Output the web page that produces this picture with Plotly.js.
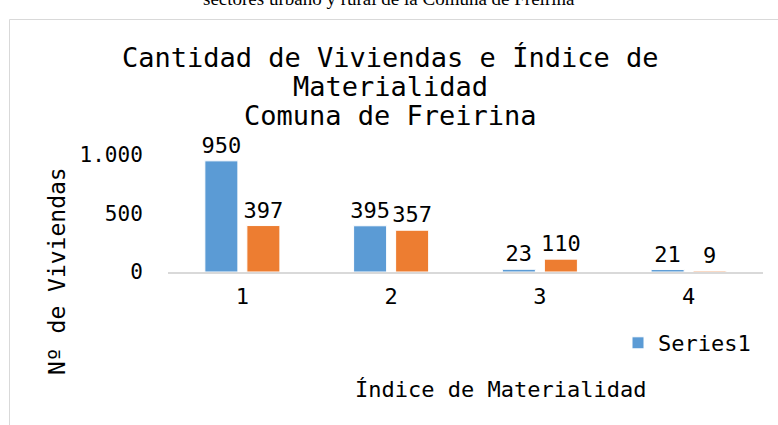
<!DOCTYPE html>
<html><head><meta charset="utf-8">
<script src="https://cdn.plot.ly/plotly-3.0.1.min.js"></script>
<style>body{margin:0;background:#fff}#chart{width:778px;height:425px}</style>
</head><body><div id="chart"></div>
<script>
const categories = ['1', '2', '3', '4'];
const series1 = [950, 395, 23, 21];
const series2 = [397, 357, 110, 9];
const yTicks = [0, 500, 1000];
const yTickLabels = ['0', '500', '1.000'];
const titleLines = ['Cantidad de Viviendas e Índice de', 'Materialidad', 'Comuna de Freirina'];
const caption = 'sectores urbano y rural de la Comuna de Freirina';
const xTitle = 'Índice de Materialidad';
const yTitle = 'Nº de Viviendas';

const FONT = '"DejaVu Sans Mono", monospace';
const L = 168, R = 763, T = 155, B = 272;
const px2x = p => (p - L) / (R - L);
const py2y = p => (B - p) / (B - T);

const traces = [
  {type: 'bar', name: 'Series1', x: categories, y: series1,
   marker: {color: '#5B9BD5', line: {color: '#ffffff', width: 1}},
   text: series1.map(String), textposition: 'outside', constraintext: 'none',
   textfont: {family: FONT, size: 22, color: '#000'}, cliponaxis: false, hoverinfo: 'none'},
  {type: 'bar', name: 'Series2', x: categories, y: series2, showlegend: false,
   marker: {color: '#ED7D31', line: {color: '#ffffff', width: 1}},
   text: series2.map(String), textposition: 'outside', constraintext: 'none',
   textfont: {family: FONT, size: 22, color: '#000'}, cliponaxis: false, hoverinfo: 'none'}
];

const titleY = [57, 86, 115];
const annotations = titleLines.map((t, i) => ({
  text: t, xref: 'paper', yref: 'paper', x: px2x(390), y: py2y(titleY[i]),
  xanchor: 'center', yanchor: 'middle', showarrow: false,
  font: {family: FONT, size: 27, color: '#000'}
}));
annotations.push({text: caption, xref: 'paper', yref: 'paper', x: px2x(389), y: py2y(-1),
  xanchor: 'center', yanchor: 'middle', showarrow: false,
  font: {family: '"Liberation Serif", "Times New Roman", serif', size: 19, color: '#000'}});
annotations.push({text: xTitle, xref: 'paper', yref: 'paper', x: px2x(500), y: py2y(389),
  xanchor: 'center', yanchor: 'middle', showarrow: false,
  font: {family: FONT, size: 22, color: '#000'}});
annotations.push({text: yTitle, xref: 'paper', yref: 'paper', x: px2x(57), y: py2y(271),
  xanchor: 'center', yanchor: 'middle', showarrow: false, textangle: -90,
  font: {family: FONT, size: 23, color: '#000'}});

const layout = {
  width: 778, height: 425,
  margin: {l: L, r: 778 - R, t: T, b: 425 - B, pad: 0},
  paper_bgcolor: '#fff', plot_bgcolor: 'rgba(0,0,0,0)',
  barmode: 'group', bargap: 0.435, bargroupgap: 0.214,
  showlegend: true,
  legend: {x: px2x(618), y: py2y(343), xanchor: 'left', yanchor: 'middle',
    font: {family: FONT, size: 22, color: '#000'}, bgcolor: 'rgba(0,0,0,0)'},
  xaxis: {type: 'category', showline: true, linecolor: '#d9d9d9', linewidth: 1.5,
    showgrid: false, zeroline: false, ticks: 'outside', ticklen: 4, tickcolor: 'rgba(0,0,0,0)',
    tickfont: {family: FONT, size: 22, color: '#000'}},
  yaxis: {range: [0, 1000], tickvals: yTicks, ticktext: yTickLabels, showgrid: false,
    zeroline: false, showline: false, ticks: 'outside', ticklen: 20, tickcolor: 'rgba(0,0,0,0)',
    tickfont: {family: FONT, size: 21, color: '#000'}},
  annotations: annotations,
  shapes: [{type: 'rect', xref: 'paper', yref: 'paper', layer: 'below',
    x0: px2x(9.5), x1: px2x(1000), y0: py2y(800), y1: py2y(19.5),
    line: {color: '#d9d9d9', width: 1}, fillcolor: 'rgba(0,0,0,0)'}]
};

Plotly.newPlot('chart', traces, layout, {displayModeBar: false, staticPlot: true});
</script></body></html>
